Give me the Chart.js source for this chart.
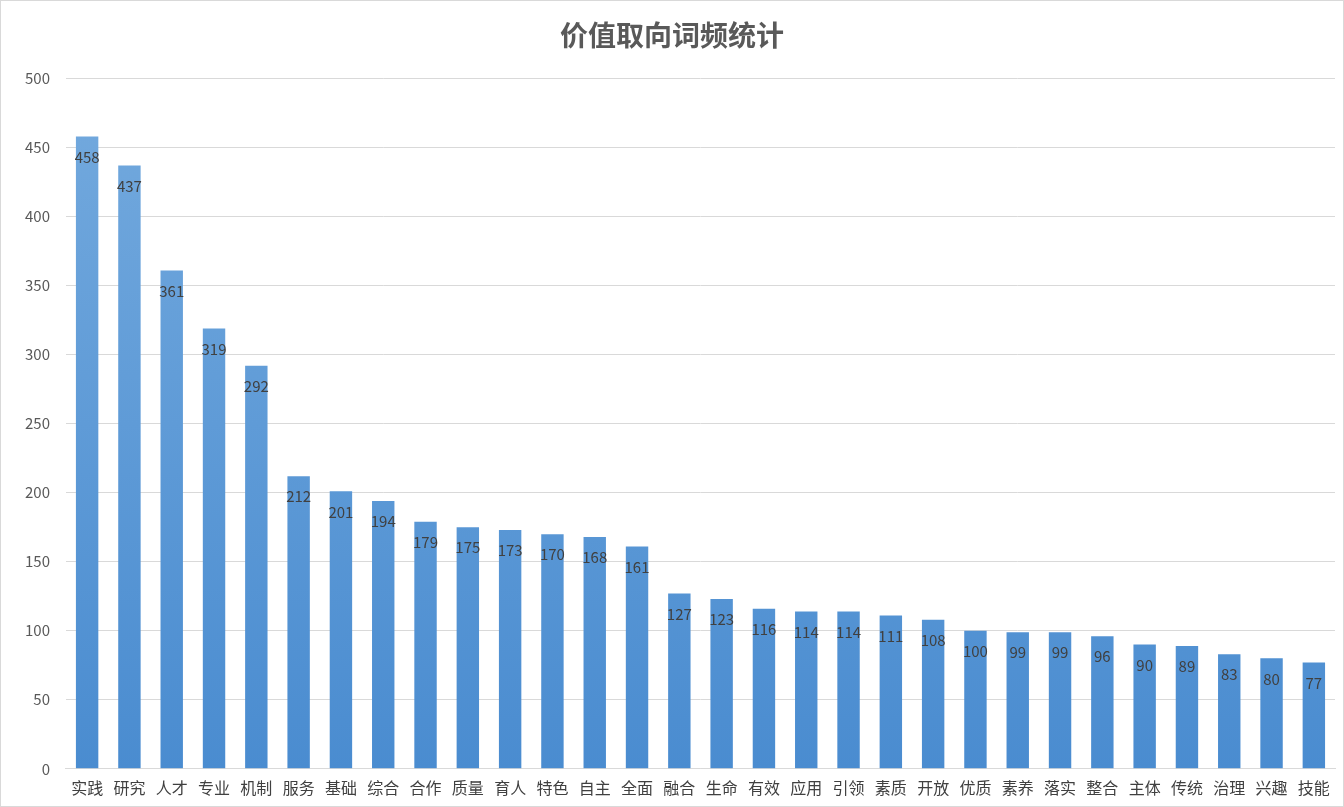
<!DOCTYPE html>
<html><head><meta charset="utf-8">
<script src="https://cdn.jsdelivr.net/npm/chart.js@4"></script>
<style>
html,body{margin:0;padding:0;background:#fff;}
#wrap{position:absolute;left:0;top:0;width:1342px;height:805px;border:1px solid #d9d9d9;}
</style></head><body>
<div id="wrap"><canvas id="c"></canvas></div>
<script>
const categories=["实践","研究","人才","专业","机制","服务","基础","综合","合作","质量","育人","特色","自主","全面","融合","生命","有效","应用","引领","素质","开放","优质","素养","落实","整合","主体","传统","治理","兴趣","技能"];
const values=[458,437,361,319,292,212,201,194,179,175,173,170,168,161,127,123,116,114,114,111,108,100,99,99,96,90,89,83,80,77];
const yTicks=[0,50,100,150,200,250,300,350,400,450,500];
const font="'Noto Sans CJK SC', 'Noto Sans', sans-serif";
const labelPlugin={id:'lbl',afterDatasetsDraw(chart){
  const ctx=chart.ctx;const meta=chart.getDatasetMeta(0);
  ctx.save();ctx.font="15px "+font;ctx.fillStyle="#404040";ctx.textAlign="center";ctx.textBaseline="top";
  meta.data.forEach((b,i)=>{ctx.fillText(values[i],b.x,b.y+13);});
  ctx.restore();}};
new Chart(document.getElementById('c'),{
  type:'bar',
  data:{labels:categories,datasets:[{data:values,
    backgroundColor:(c)=>{const a=c.chart.chartArea;if(!a)return '#5b9bd5';
      const g=c.chart.ctx.createLinearGradient(0,a.top,0,a.bottom);
      g.addColorStop(0,'#74aade');g.addColorStop(1,'#4a8cd0');return g;},
    categoryPercentage:1,barPercentage:0.53}]},
  options:{responsive:true,maintainAspectRatio:false,animation:false,
    layout:{padding:{left:8,right:8,top:10,bottom:6}},
    plugins:{legend:{display:false},tooltip:{enabled:false},
      title:{display:true,text:'价值取向词频统计',color:'#595959',font:{family:font,size:28,weight:'bold'},padding:{top:8,bottom:26}}},
    scales:{
      x:{grid:{display:false},border:{color:'#d9d9d9'},ticks:{color:'#404040',font:{family:font,size:16},maxRotation:0,autoSkip:false,padding:2}},
      y:{min:0,max:500,afterBuildTicks:(s)=>{s.ticks=yTicks.map(v=>({value:v}));},
        grid:{color:'#d9d9d9',drawTicks:false},border:{display:false},
        ticks:{color:'#595959',font:{family:font,size:15},padding:16}}
    }}
  ,plugins:[labelPlugin]});
</script></body></html>
